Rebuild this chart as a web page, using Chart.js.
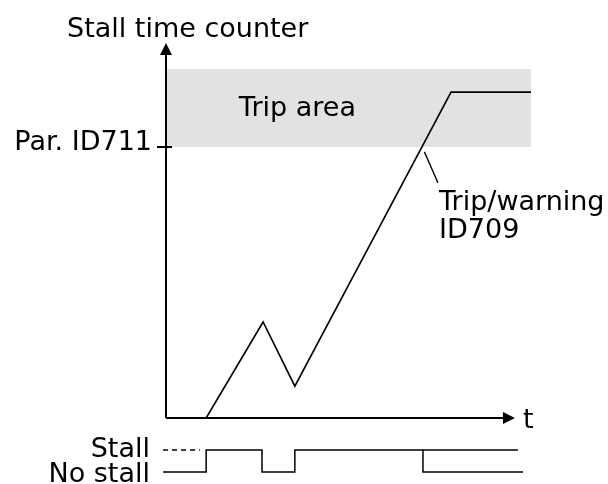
<!DOCTYPE html>
<html>
<head>
<meta charset="utf-8">
<script src="https://cdn.jsdelivr.net/npm/chart.js@4/dist/chart.umd.min.js"></script>
<style>
  body { margin: 0; background: #fff; }
  #wrap { width: 608px; height: 484px; }
</style>
</head>
<body>
<div id="wrap"><canvas id="stallChart" width="608" height="484"></canvas></div>
<script>
// stall time counter (time in %, counter in %)
var counterT   = [11, 26.6, 35.3, 78.1, 100]
var counterVal = [0, 25.6, 8.5, 86.9, 86.9]

// trip limit (Par. ID711) and top of the shaded trip area
var tripLimit = 72.3
var tripTop   = 93.1

// stall signal: 1 = stall, 0 = no stall
var stallT     = [-0.8, 11, 26.3, 35.3, 70.4, 97.8]
var stallState = [0, 1, 0, 1, 0, 0]

// "Stall" level guide lines
var stallDashT = [-0.8, 9.3]
var stallRefT  = [70.4, 96.4]

var xArrowTip = 95.6
var FONT = '27px "DejaVu Sans", Verdana, sans-serif'

function pts(xs, ys) {
  return xs.map(function (x, i) { return { x: x, y: Array.isArray(ys) ? ys[i] : ys } })
}

// axes with arrows, labels and the trip/warning leader line
var annotations = {
  id: 'annotations',
  afterDatasetsDraw: function (chart) {
    var ctx = chart.ctx
    var sx = chart.scales.x, sy = chart.scales.y
    var x0 = sx.getPixelForValue(0), y0 = sy.getPixelForValue(0)
    var yTop = sy.getPixelForValue(100), xEnd = sx.getPixelForValue(xArrowTip)
    var yThr = sy.getPixelForValue(tripLimit)

    ctx.save()
    ctx.strokeStyle = '#000'
    ctx.fillStyle = '#000'
    ctx.lineWidth = 2

    ctx.beginPath()
    ctx.moveTo(x0, y0); ctx.lineTo(x0, yTop + 8)
    ctx.moveTo(x0, y0); ctx.lineTo(xEnd - 8, y0)
    ctx.moveTo(x0 - 9, yThr); ctx.lineTo(x0 + 6, yThr)
    ctx.stroke()

    ctx.beginPath()
    ctx.moveTo(x0, yTop); ctx.lineTo(x0 - 6, yTop + 12); ctx.lineTo(x0 + 6, yTop + 12)
    ctx.closePath(); ctx.fill()
    ctx.beginPath()
    ctx.moveTo(xEnd, y0); ctx.lineTo(xEnd - 12, y0 - 6); ctx.lineTo(xEnd - 12, y0 + 6)
    ctx.closePath(); ctx.fill()

    // leader from the crossing point to the label
    ctx.lineWidth = 1.3
    ctx.beginPath()
    ctx.moveTo(sx.getPixelForValue(70.8), yThr + 5)
    ctx.lineTo(sx.getPixelForValue(74.5), yThr + 36)
    ctx.stroke()

    ctx.font = FONT
    ctx.fillStyle = '#000'
    ctx.textBaseline = 'alphabetic'
    ctx.textAlign = 'left'
    ctx.fillText('Stall time counter', x0 - 99, 37)
    ctx.fillText('t', xEnd + 8, y0 + 10)
    ctx.fillText('Trip/warning', sx.getPixelForValue(74.8), yThr + 63)
    ctx.fillText('ID709', sx.getPixelForValue(74.8), yThr + 91)
    ctx.textAlign = 'center'
    ctx.fillText('Trip area', sx.getPixelForValue(36), sy.getPixelForValue(80.5))
    ctx.textAlign = 'right'
    ctx.fillText('Par. ID711', x0 - 14, yThr + 3)
    var ys = chart.scales.ys
    ctx.fillText('Stall', x0 - 16, ys.getPixelForValue(1) + 7)
    ctx.fillText('No stall', x0 - 16, ys.getPixelForValue(0) + 10)
    ctx.restore()
  }
}

new Chart(document.getElementById('stallChart'), {
  type: 'line',
  data: {
    datasets: [{
      data: pts(counterT, counterVal),
      borderColor: '#000',
      borderWidth: 1.6
    }, {
      data: pts(stallT, stallState),
      yAxisID: 'ys',
      stepped: true,
      borderColor: '#000',
      borderWidth: 1.5
    }, {
      data: pts(stallDashT, 1),
      yAxisID: 'ys',
      borderColor: '#000',
      borderWidth: 1.5,
      borderDash: [5, 4]
    }, {
      data: pts(stallRefT, 1),
      yAxisID: 'ys',
      borderColor: '#000',
      borderWidth: 1.5
    }, {
      // shaded trip area, drawn first
      data: pts([0, 100], tripTop),
      borderWidth: 0,
      backgroundColor: '#e2e2e2',
      fill: { value: tripLimit }
    }]
  },
  options: {
    responsive: false,
    animation: false,
    clip: false,
    layout: { padding: { left: 166, right: 77, top: 43, bottom: 4 } },
    elements: { point: { radius: 0 }, line: { tension: 0 } },
    scales: {
      x: { type: 'linear', min: 0, max: 100, display: false },
      y: { type: 'linear', min: -16.53, max: 100, display: false },
      ys: { type: 'linear', min: -0.3636, max: 19.5, display: false }
    },
    plugins: { legend: { display: false }, tooltip: { enabled: false } }
  },
  plugins: [annotations]
})
</script>
</body>
</html>
